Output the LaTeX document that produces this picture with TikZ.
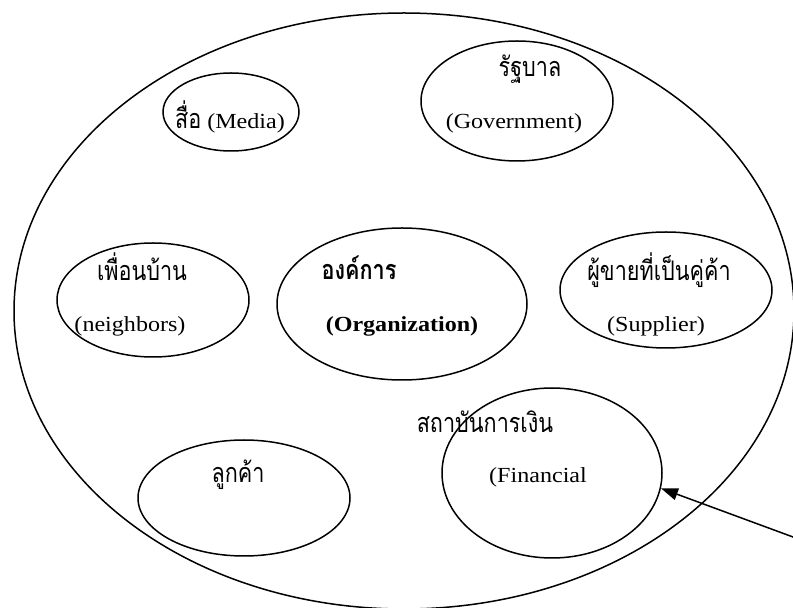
\documentclass[tikz,border=0pt]{standalone}
\usepackage{fontspec}
\setmainfont{Liberation Serif}[FakeStretch=1.12]
\newfontfamily\thaifont[Script=Thai,FakeStretch=0.8]{Loma}
\newcommand\thaitxt[1]{{\thaifont\fontsize{27}{30}\selectfont #1}}
\usetikzlibrary{shapes.geometric,arrows.meta}

\begin{document}
\begin{tikzpicture}[x=1pt,y=1pt,
  ring/.style={draw,ellipse,line width=1.5pt,inner sep=0pt},
  lbl/.style={anchor=base,inner sep=0pt,font=\fontsize{21.5}{24}\selectfont}]
\useasboundingbox (0,0) rectangle (793,608);
\clip (0,0) rectangle (793,608);

% outer environment
\node[ring,minimum width=780,minimum height=596] (env) at (404,297) {};

% stakeholders
\node[ring,minimum width=136,minimum height=78]  (media) at (231,496) {};
\node[ring,minimum width=192,minimum height=120] (gov)   at (517,507) {};
\node[ring,minimum width=192,minimum height=114] (nbr)   at (153,308) {};
\node[ring,minimum width=250,minimum height=152] (org)   at (402,304) {};
\node[ring,minimum width=212,minimum height=116] (sup)   at (666,318) {};
\node[ring,minimum width=212,minimum height=116] (cus)   at (244,110) {};
\node[ring,minimum width=220,minimum height=170] (fin)   at (552,135) {};

% labels
\node[lbl] (mediaT) at (230,479) {\thaitxt{สื่อ} (Media)};
\node[lbl] (govT1) at (530,531) {\thaitxt{รัฐบาล}};
\node[lbl] (govT2) at (514,479) {(Government)};
\node[lbl] (nbrT1) at (142,327) {\thaitxt{เพื่อนบ้าน}};
\node[lbl] (nbrT2) at (130,276) {(neighbors)};
\node[lbl] (orgT1) at (359,328) {\bfseries\thaitxt{\bfseries องค์การ}};
\node[lbl] (orgT2) at (402,276) {\bfseries (Organization)};
\node[lbl] (supT1) at (659,327) {\thaitxt{ผู้ขายที่เป็นคู่ค้า}};
\node[lbl] (supT2) at (656,276) {(Supplier)};
\node[lbl] (cusT)  at (238,125) {\thaitxt{ลูกค้า}};
\node[lbl] (finT1) at (485,175) {\thaitxt{สถาบันการเงิน}};
\node[lbl] (finT2) at (538,125) {(Financial};

% pointer into the financial institution
\coordinate (src) at (812,64);
\draw[line width=1.5pt,-{Triangle[length=17pt,width=12pt]}] (src) -- (fin.-8);
\end{tikzpicture}
\end{document}
